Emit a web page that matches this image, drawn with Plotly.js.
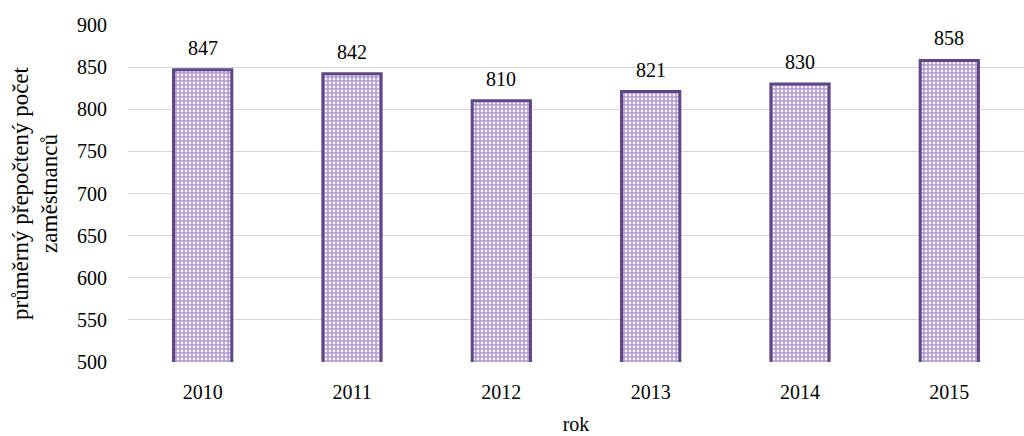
<!DOCTYPE html>
<html><head><meta charset="utf-8">
<script src="https://cdn.plot.ly/plotly-3.0.1.min.js"></script>
<style>html,body{margin:0;padding:0;background:#fff}#chart{width:1024px;height:436px}</style>
</head><body><div id="chart"></div>
<script>
const years = ['2010','2011','2012','2013','2014','2015'];
const employees = [847, 842, 810, 821, 830, 858];
const yTicks = [500,550,600,650,700,750,800,850,900];

const font = {family: 'Liberation Serif, Times New Roman, serif', color: '#000', size: 20};
const titleFont = {family: 'Liberation Serif, Times New Roman, serif', color: '#000', size: 23};

Plotly.newPlot('chart', [{
  type: 'bar',
  x: years,
  y: employees,
  marker: {
    color: '#b9a6d6',
    line: {color: '#5e4787', width: 3},
    pattern: {shape: '.', fgcolor: '#f6f2fb', bgcolor: '#ad99ce', size: 4, solidity: 0.4}
  },
  hoverinfo: 'none'
}], {
  width: 1024, height: 436,
  margin: {l: 128, r: 0, t: 25, b: 74},
  paper_bgcolor: '#fff', plot_bgcolor: '#fff',
  bargap: 0.61,
  showlegend: false,
  font: font,
  annotations: years.map((yr, i) => ({
    x: i, y: employees[i], xref: 'x', yref: 'y',
    text: String(employees[i]), showarrow: false,
    yanchor: 'bottom', yshift: 9, font: font
  })),
  xaxis: {
    type: 'category',
    range: [-0.5, years.length - 0.5],
    tickfont: font,
    showgrid: false,
    showline: false,
    ticks: '',
    ticklabelstandoff: 16,
    title: {text: 'rok', font: font, standoff: 14}
  },
  yaxis: {
    range: [500, 900],
    tickvals: yTicks,
    tickfont: font,
    showgrid: true,
    gridcolor: '#d9d9d9',
    gridwidth: 1,
    zeroline: false,
    showline: false,
    ticks: '',
    ticklabelstandoff: 20,
    title: {text: 'průměrný přepočtený počet<br>zaměstnanců', font: titleFont, standoff: 12}
  }
}, {staticPlot: true});
</script></body></html>
